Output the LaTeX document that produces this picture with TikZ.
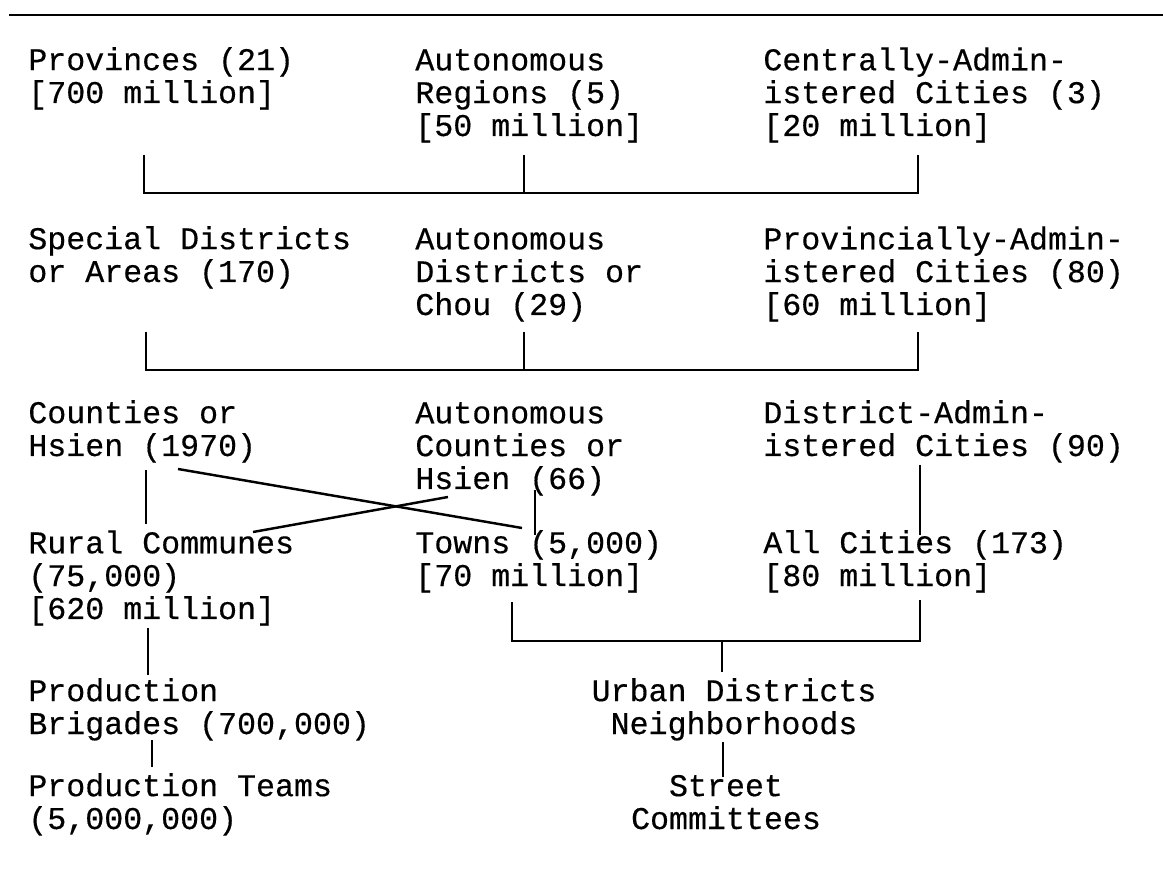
\documentclass[tikz,border=0pt]{standalone}
\usepackage{fontspec}
\newfontfamily\tw[FakeBold=0.4]{Liberation Mono}
\begin{document}
\begin{tikzpicture}[x=0.02cm,y=-0.02cm,
  lbl/.style={anchor=base west, inner sep=0pt, align=left, font=\tw\fontsize{18pt}{18.7pt}\selectfont},
  clbl/.style={lbl, anchor=base, align=center},
  conn/.style={line width=1.1pt, line cap=butt},
  diag/.style={line width=1.4pt, line cap=butt},
  rule/.style={line width=1.6pt}]
\useasboundingbox (0,0) rectangle (1163,874);
% top rule
\coordinate (ruleL) at (9,15);
\coordinate (ruleR) at (1163,15);
\draw[rule] (ruleL) -- (ruleR);
% row 1 (anchors at last baseline)
\node[lbl] (prov) at (28,103) {Provinces (21)\\\relax[700 million]};
\node[lbl] (areg) at (415,136) {Autonomous\\Regions (5)\\\relax[50 million]};
\node[lbl] (cac) at (763,136) {Centrally-Admin-\\istered Cities (3)\\\relax[20 million]};
% row 2
\node[lbl] (sda) at (28,282) {Special Districts\\or Areas (170)};
\node[lbl] (adc) at (415,315) {Autonomous\\Districts or\\Chou (29)};
\node[lbl] (pac) at (763,315) {Provincially-Admin-\\istered Cities (80)\\\relax[60 million]};
% row 3
\node[lbl] (cty) at (28,456) {Counties or\\Hsien (1970)};
\node[lbl] (acty) at (415,489) {Autonomous\\Counties or\\Hsien (66)};
\node[lbl] (dac) at (763,456) {District-Admin-\\istered Cities (90)};
% row 4
\node[lbl] (rural) at (28,619) {Rural Communes\\(75,000)\\\relax[620 million]};
\node[lbl] (towns) at (415,586) {Towns (5,000)\\\relax[70 million]};
\node[lbl] (allc) at (763,586) {All Cities (173)\\\relax[80 million]};
% rows 5 and 6
\node[lbl] (brig) at (28,734) {Production\\Brigades (700,000)};
\node[clbl] (urban) at (734,734) {Urban Districts\\Neighborhoods};
\node[lbl] (teams) at (28,829) {Production Teams\\(5,000,000)};
\node[clbl] (street) at (726,829) {Street\\Committees};
% bracket 1
\coordinate (provS) at (144,155);
\coordinate (aregS) at (524,155);
\coordinate (cacS) at (918,155);
\coordinate (j1) at (0,193);
\draw[conn] (provS) -- (provS |- j1) -- (cacS |- j1) -- (cacS);
\draw[conn] (aregS) -- (aregS |- j1);
% bracket 2
\coordinate (sdaS) at (146,332);
\coordinate (adcS) at (524,332);
\coordinate (pacS) at (918,332);
\coordinate (j2) at (0,370);
\draw[conn] (sdaS) -- (sdaS |- j2) -- (pacS |- j2) -- (pacS);
\draw[conn] (adcS) -- (adcS |- j2);
% row 3 -> row 4
\coordinate (ctyS) at (146,470);
\coordinate (ruralN) at (146,524);
\draw[conn] (ctyS) -- (ruralN);
\coordinate (ctyX) at (178,469);
\coordinate (townsX) at (522,528);
\draw[diag] (ctyX) -- (townsX);
\coordinate (actyX) at (448,497);
\coordinate (ruralX) at (253,532);
\draw[diag] (actyX) -- (ruralX);
\coordinate (actyS) at (535,490);
\coordinate (townsN) at (535,535);
\draw[diag] (actyS) -- (townsN);
\coordinate (dacS) at (920,465);
\coordinate (allcN) at (920,535);
\draw[conn] (dacS) -- (allcN);
% rural -> brigades -> teams
\coordinate (ruralS) at (148,628);
\coordinate (brigN) at (148,675);
\draw[conn] (ruralS) -- (brigN);
\coordinate (brigS) at (152,740);
\coordinate (teamsN) at (152,767);
\draw[conn] (brigS) -- (teamsN);
% towns / all cities -> urban districts
\coordinate (townsS) at (512,602);
\coordinate (allcS) at (920,600);
\coordinate (j3) at (0,641);
\coordinate (urbanN) at (722,672);
\draw[conn] (townsS) -- (townsS |- j3) -- (allcS |- j3) -- (allcS);
\draw[conn] (urbanN |- j3) -- (urbanN);
% neighborhoods -> street
\coordinate (urbanS) at (723,742);
\coordinate (streetN) at (723,777);
\draw[conn] (urbanS) -- (streetN);
\end{tikzpicture}
\end{document}
